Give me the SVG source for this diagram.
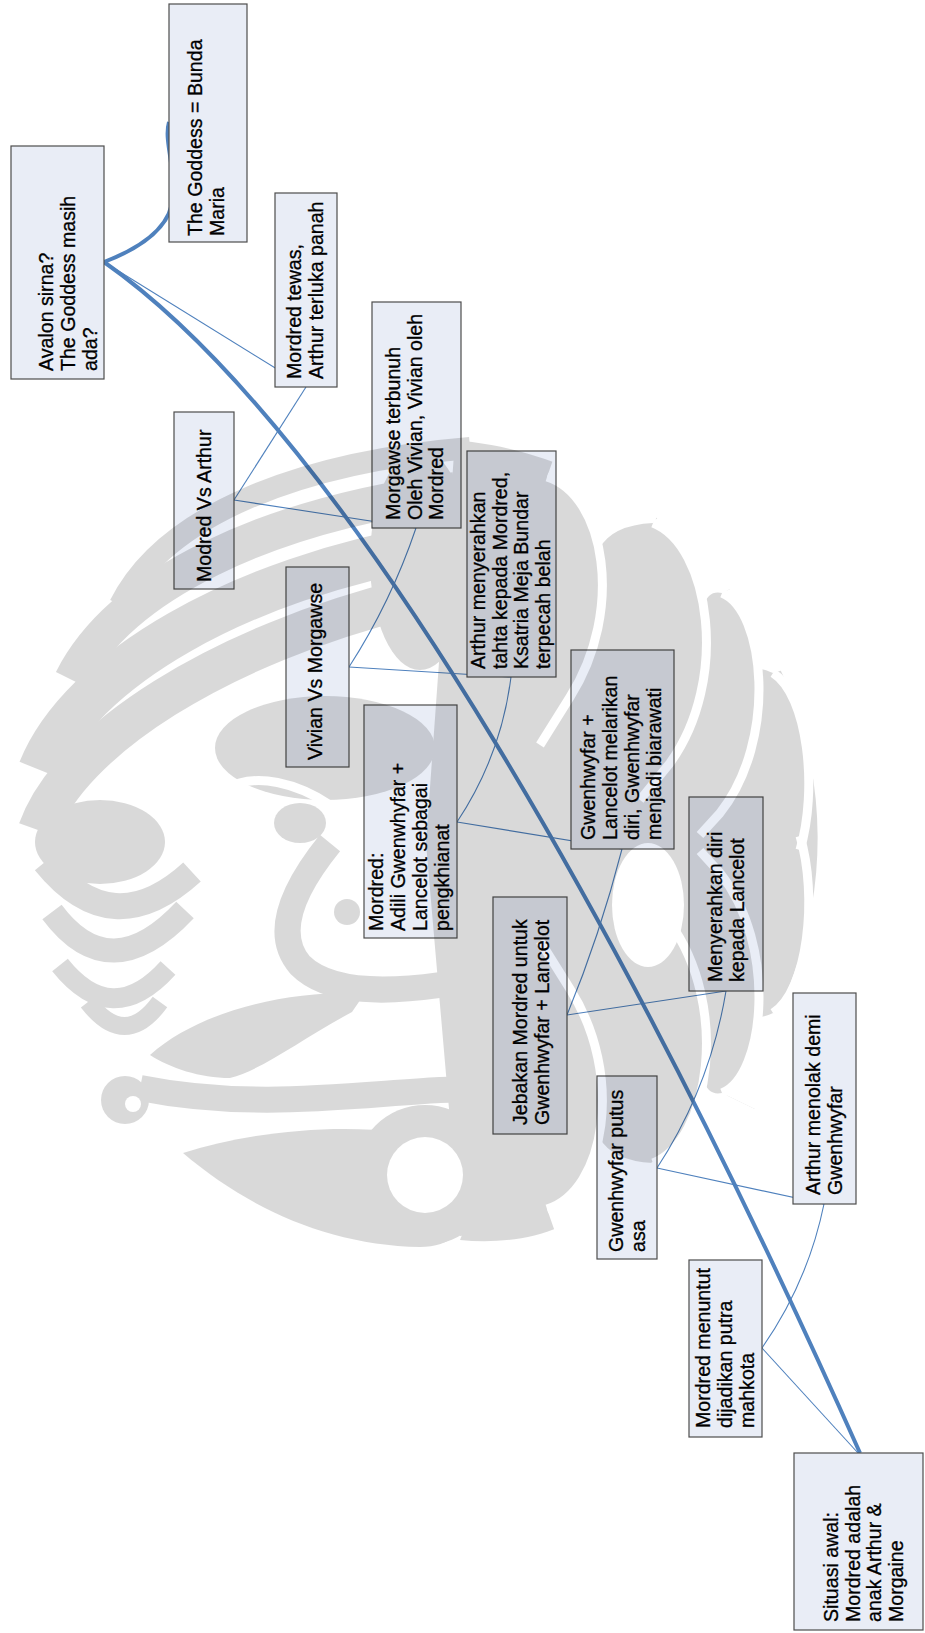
<svg xmlns="http://www.w3.org/2000/svg" width="925" height="1633" viewBox="0 0 925 1633">
<style>
.box{fill:#e9edf6;stroke:#4d4d4d;stroke-width:1.2}
.t{font-family:"Liberation Sans",Arial,sans-serif;font-size:19.6px;fill:#000;stroke:#000;stroke-width:0.3}
.thin{fill:none;stroke:#4f81bd;stroke-width:1.1}
.thick{fill:none;stroke:#4f81bd;stroke-width:4}
</style>
<defs>
<mask id="wm" maskUnits="userSpaceOnUse" x="0" y="0" width="925" height="1633">
  <g fill="#fff">
    <path d="M426,843 L455,440 A400,400 0 0 1 460,1236 Z"/>
    <ellipse cx="100" cy="842" rx="65" ry="42"/>
    <ellipse cx="325" cy="748" rx="110" ry="52"/>
    <ellipse cx="300" cy="823" rx="26" ry="20"/>
    <ellipse cx="420" cy="560" rx="50" ry="110"/>
    <circle cx="347" cy="912" r="13"/>
    <circle cx="125" cy="1100" r="24"/>
    <circle cx="735" cy="1100" r="22"/>
    <path d="M150,1055 C200,1010 290,990 365,993 L352,1012 C300,1040 262,1070 230,1078 C200,1078 170,1068 150,1055 Z"/>
    <path d="M183,1153 C250,1132 330,1124 400,1132 L470,1200 C470,1230 450,1247 420,1247 C330,1245 250,1210 183,1153 Z"/>
    <circle cx="425" cy="1175" r="70"/>
    <path d="M470,1215 C520,1225 560,1215 598,1198 C570,1235 510,1245 460,1240 Z"/>
  </g>
  <g fill="none" stroke="#fff">
    <path stroke-width="22" d="M120,605 C165,515 300,462 470,448"/>
    <path stroke-width="36" d="M72,680 C120,585 265,515 455,490"/>
    <path stroke-width="44" d="M40,770 C80,670 240,578 435,545"/>
    <path stroke-width="40" d="M38,830 C70,740 220,645 410,598"/>
    <path stroke-width="26" d="M45,862 Q112,945 192,872"/>
    <path stroke-width="24" d="M52,912 Q110,990 185,910"/>
    <path stroke-width="20" d="M60,965 Q112,1030 168,968"/>
    <path stroke-width="18" d="M88,1002 Q125,1050 160,1002"/>
    <path stroke-width="26" d="M330,843 C300,880 270,930 300,965 C330,995 390,992 440,985"/>
    <path stroke-width="26" d="M140,1088 C250,1110 350,1095 440,1090 C560,1085 650,1090 720,1097"/>
  </g>
  <g fill="#000">
    <circle cx="425" cy="1175" r="38"/>
    <circle cx="133" cy="1104" r="8"/>
    <ellipse cx="648" cy="905" rx="36" ry="62"/>
    <g id="cutU">
      <path d="M547,477 C573,485 591.5,513 599,549 Q612,525 653,523 L690,470 L560,440 Z"/>
      <path d="M653,523 C678.7,533 696.8,566 703.5,606.5 Q708,590 722,593 L790,560 L690,480 Z"/>
      <path d="M722,593 C741.4,600.7 754.6,631.2 758.1,669.1 Q762,668 773,673 L850,650 L790,560 Z"/>
    </g>
    <use href="#cutU" transform="matrix(1 0 0 -1 0 1686)"/>
  </g>
  <g fill="none" stroke="#000" stroke-width="9">
    <g id="stripU">
      <path d="M547,477 C605,495 625,610 570,697 L540,745"/>
      <path d="M653,523 C710,545 730,680 670,763 L640,800"/>
      <path d="M722,593 C765,610 778,740 720,813 L700,835"/>
      <path d="M773,673 C808,695 818,790 800,850"/>
    </g>
    <use href="#stripU" transform="matrix(1 0 0 -1 0 1686)"/>
    <path d="M225,790 C255,770 300,785 330,805"/>
  </g>
</mask>
</defs>
<rect width="925" height="1633" fill="#fff"/>
<g id="connectors">
  <path class="thick" d="M860,1453 C644,969 354,437 104,262"/>
  <path class="thick" d="M104,262 Q172,236 173,195 C174,160 164,140 169,122"/>
  <path class="thin" d="M858,1453 L762,1348"/>
  <path class="thin" d="M762,1348 Q808,1282 824,1204"/>
  <path class="thin" d="M824,1204 L657,1168"/>
  <path class="thin" d="M657,1168 Q710,1087 726,991"/>
  <path class="thin" d="M726,991 L567,1015"/>
  <path class="thin" d="M567,1015 Q600,935 622,849"/>
  <path class="thin" d="M622,849 L457,822"/>
  <path class="thin" d="M457,822 Q501,756 511,677"/>
  <path class="thin" d="M511,677 L349,667"/>
  <path class="thin" d="M349,667 Q391,602 416,528"/>
  <path class="thin" d="M416,528 L234,500"/>
  <path class="thin" d="M234,500 L306,387"/>
  <path class="thin" d="M306,387 L104,262"/>
</g>
<g id="n-goddess"><rect class="box" x="169" y="4" width="78" height="238"/>
<text class="t" transform="translate(202,236) rotate(-90) scale(1,1.045)"><tspan x="0">The Goddess = Bunda</tspan><tspan x="0" dy="20.9">Maria</tspan></text></g>
<g id="n-avalon"><rect class="box" x="11" y="146" width="93" height="233"/>
<text class="t" transform="translate(53,371) rotate(-90) scale(1,1.045)"><tspan x="0">Avalon sirna?</tspan><tspan x="0" dy="20.9">The Goddess masih</tspan><tspan x="0" dy="20.9">ada?</tspan></text></g>
<g id="n-tewas"><rect class="box" x="275" y="193" width="62" height="194"/>
<text class="t" transform="translate(301,379) rotate(-90) scale(1,1.045)"><tspan x="0">Mordred tewas,</tspan><tspan x="0" dy="20.6">Arthur terluka panah</tspan></text></g>
<g id="n-morgawse"><rect class="box" x="372" y="302" width="89" height="226"/>
<text class="t" transform="translate(400,520) rotate(-90) scale(1,1.045)"><tspan x="0">Morgawse terbunuh</tspan><tspan x="0" dy="20.6">Oleh Vivian, Vivian oleh</tspan><tspan x="0" dy="20.6">Mordred</tspan></text></g>
<g id="n-modred"><rect class="box" x="174" y="412" width="60" height="177"/>
<text class="t" transform="translate(211,582) rotate(-90) scale(1,1.045)">Modred Vs Arthur</text></g>
<g id="n-vivian"><rect class="box" x="286" y="567" width="63" height="200"/>
<text class="t" transform="translate(322,760) rotate(-90) scale(1,1.045)">Vivian Vs Morgawse</text></g>
<g id="n-tahta"><rect class="box" x="467" y="451" width="89" height="226"/>
<text class="t" transform="translate(485,669) rotate(-90) scale(1,1.045)"><tspan x="0">Arthur menyerahkan</tspan><tspan x="0" dy="20.8">tahta kepada Mordred,</tspan><tspan x="0" dy="20.8">Ksatria Meja Bundar</tspan><tspan x="0" dy="20.8">terpecah belah</tspan></text></g>
<g id="n-adili"><rect class="box" x="364" y="705" width="93" height="233"/>
<text class="t" transform="translate(383,931) rotate(-90) scale(1,1.045)"><tspan x="0">Mordred:</tspan><tspan x="0" dy="20.9">Adili Gwenwhyfar +</tspan><tspan x="0" dy="20.9">Lancelot sebagai</tspan><tspan x="0" dy="20.9">pengkhianat</tspan></text></g>
<g id="n-melarikan"><rect class="box" x="571" y="650" width="103" height="199"/>
<text class="t" transform="translate(595,840) rotate(-90) scale(1,1.045)"><tspan x="0">Gwenhwyfar +</tspan><tspan x="0" dy="20.9">Lancelot melarikan</tspan><tspan x="0" dy="20.9">diri, Gwenhwyfar</tspan><tspan x="0" dy="20.9">menjadi biarawati</tspan></text></g>
<g id="n-menyerahkan"><rect class="box" x="689" y="797" width="74" height="194"/>
<text class="t" transform="translate(722,982) rotate(-90) scale(1,1.045)"><tspan x="0">Menyerahkan diri</tspan><tspan x="0" dy="20.6">kepada Lancelot</tspan></text></g>
<g id="n-jebakan"><rect class="box" x="493" y="897" width="74" height="237"/>
<text class="t" transform="translate(527,1125) rotate(-90) scale(1,1.045)"><tspan x="0">Jebakan Mordred untuk</tspan><tspan x="0" dy="20.6">Gwenhwyfar + Lancelot</tspan></text></g>
<g id="n-putus"><rect class="box" x="597" y="1076" width="60" height="183"/>
<text class="t" transform="translate(623,1252) rotate(-90) scale(1,1.045)"><tspan x="0">Gwenhwyfar putus</tspan><tspan x="0" dy="20.6">asa</tspan></text></g>
<g id="n-menolak"><rect class="box" x="793" y="993" width="63" height="211"/>
<text class="t" transform="translate(820,1195) rotate(-90) scale(1,1.045)"><tspan x="0">Arthur menolak demi</tspan><tspan x="0" dy="20.6">Gwenhwyfar</tspan></text></g>
<g id="n-menuntut"><rect class="box" x="689" y="1260" width="73" height="177"/>
<text class="t" transform="translate(710,1428) rotate(-90) scale(1,1.045)"><tspan x="0">Mordred menuntut</tspan><tspan x="0" dy="20.9">dijadikan putra</tspan><tspan x="0" dy="20.9">mahkota</tspan></text></g>
<g id="n-situasi"><rect class="box" x="794" y="1453" width="129" height="177"/>
<text class="t" transform="translate(838,1622) rotate(-90) scale(1,1.045)"><tspan x="0">Situasi awal:</tspan><tspan x="0" dy="20.8">Mordred adalah</tspan><tspan x="0" dy="20.8">anak Arthur &amp;</tspan><tspan x="0" dy="20.8">Morgaine</tspan></text></g>
<rect id="watermark" x="0" y="0" width="925" height="1633" fill="#000" fill-opacity="0.149" mask="url(#wm)"/>
</svg>
